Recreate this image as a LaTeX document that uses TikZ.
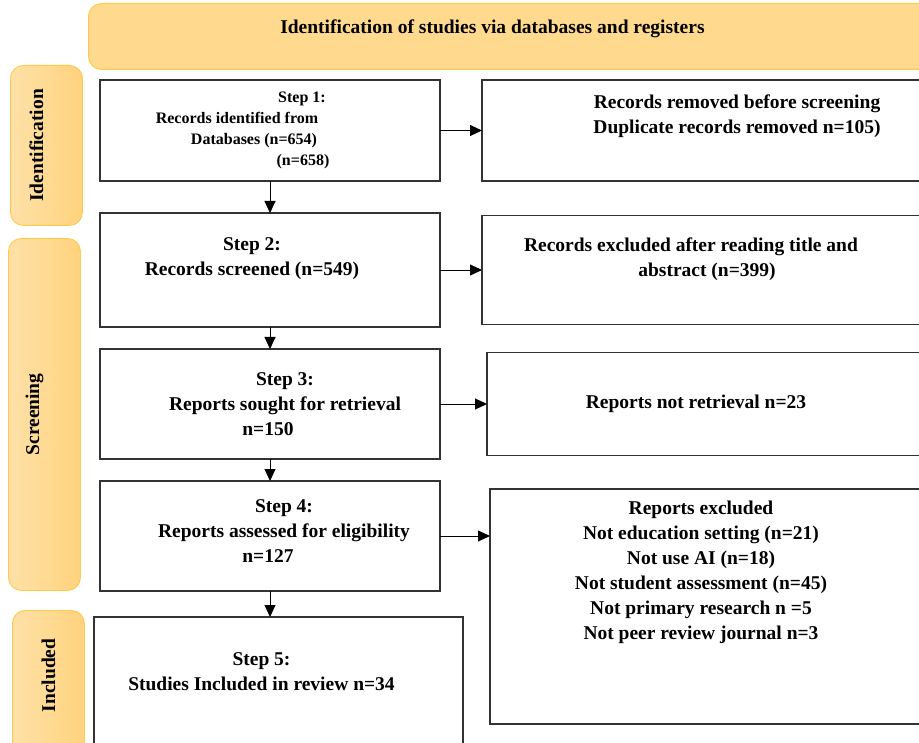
\documentclass[tikz,border=0pt]{standalone}
\usepackage{fontspec}
\setmainfont{Liberation Serif}
\usetikzlibrary{positioning,arrows.meta}

\definecolor{bandfill}{HTML}{FFD98E}
\definecolor{banddraw}{HTML}{FFC94A}
\definecolor{bandlight}{HTML}{FEE1A8}
\definecolor{banddark}{HTML}{FFD37E}
\definecolor{boxdraw}{HTML}{333333}

\begin{document}
\begin{tikzpicture}[
    x=1pt, y=-1pt,
    font=\bfseries\fontsize{19.5}{25}\selectfont,
    box/.style={rectangle, draw=boxdraw, line width=1.2pt, anchor=north west, inner sep=0pt, outer sep=0pt},
    txt/.style={align=center, inner sep=0pt},
    small/.style={txt, font=\bfseries\fontsize{16}{21}\selectfont},
    heading/.style={rectangle, rounded corners=13pt, draw=banddraw, fill=bandfill, line width=0.9pt, anchor=north west},
    band/.style={rectangle, rounded corners=13pt, draw=banddraw, line width=0.9pt, left color=bandlight, right color=banddark, anchor=north west},
    line/.style={draw, line width=0.9pt, -{Triangle[length=12pt, width=11pt]}}
]
    \clip (0,0) rectangle (919,743);

    % Heading and stage bands
    \node [heading, minimum width=880pt, minimum height=66pt] (head) at (88,3) {};
    \node [txt] (head text) at ([xshift=-36pt, yshift=8pt]head.center) {Identification of studies via databases and registers};

    \node [band, minimum width=72pt, minimum height=160pt] (ident) at (10,65) {};
    \node [txt, rotate=90] (ident text) at ([xshift=-10pt]ident.center) {Identification};
    \node [band, minimum width=72pt, minimum height=352pt] (screen) at (8,238) {};
    \node [txt, rotate=90] (screen text) at ([xshift=-10pt]screen.center) {Screening};
    \node [band, minimum width=72pt, minimum height=160pt] (incl) at (12,610) {};
    \node [txt, rotate=90] (incl text) at ([yshift=15pt]incl.center) {Included};

    % Place steps
    \node [box, minimum width=340pt, minimum height=101pt] (step1) at (100,80) {};
    \node [box, minimum width=340pt, minimum height=114pt, below=32pt of step1] (step2) {};
    \node [box, minimum width=340pt, minimum height=110pt, below=22pt of step2] (step3) {};
    \node [box, minimum width=340pt, minimum height=110pt, below=22pt of step3] (step4) {};
    \node [box, minimum width=369pt, minimum height=160pt, below=26pt of step4.south west, anchor=north west, xshift=-6pt] (step5) {};

    % Place exclusion boxes
    \node [box, minimum width=480pt, minimum height=101pt, right=42pt of step1] (removed) {};
    \node [box, minimum width=480pt, minimum height=109pt, right=42pt of step2] (excluded) {};
    \node [box, minimum width=480pt, minimum height=103pt, right=47pt of step3] (not retrieved) {};
    \node [box, minimum width=480pt, minimum height=235pt, right=50pt of step4.north east, anchor=north west, yshift=-8pt] (reports excluded) {};

    % Texts
    \node [small] (step1 text) at (step1.center) {\hspace*{64pt}Step 1:\\
        Records identified from\hspace*{66pt}\null\\
        Databases (n=654)\hspace*{32pt}\null\\
        \hspace*{66pt}(n=658)};
    \node [txt] (step2 text) at ([xshift=-18pt, yshift=11pt]step2.center) {Step 2:\\Records screened (n=549)};
    \node [txt] (step3 text) at ([xshift=15pt]step3.center) {Step 3:\\Reports sought for retrieval\\n=150\hspace*{34pt}\null};
    \node [txt] (step4 text) at ([xshift=14pt, yshift=5pt]step4.center) {Step 4:\\Reports assessed for eligibility\\n=127\hspace*{32pt}\null};
    \node [txt] (step5 text) at ([xshift=-17pt, yshift=25pt]step5.center) {Step 5:\\Studies Included in review n=34};

    \node [txt] (removed text) at ([xshift=15pt, yshift=14pt]removed.center) {Records removed before screening\\Duplicate records removed n=105)};
    \node [txt] (excluded text) at ([xshift=-23pt, yshift=11pt]excluded.center) {Records excluded after reading title and\hspace*{16pt}\null\\\hspace*{16pt}abstract (n=399)};
    \node [txt] (not retrieved text) at ([xshift=-31pt]not retrieved.center) {Reports not retrieval n=23};
    \node [txt] (reports excluded text) at ([xshift=-29pt, yshift=34pt]reports excluded.center) {Reports excluded\\
        Not education setting (n=21)\\
        Not use AI (n=18)\\
        Not student assessment (n=45)\\
        Not primary research n =5\\
        Not peer review journal n=3};

    % Draw edges
    \path [line] (step1) -- (step2);
    \path [line] (step2) -- (step3);
    \path [line] (step3) -- (step4);
    \path [line] (step4) -- (step4 |- step5.north);
    \path [line] (step1) -- (removed);
    \path [line] (step2) -- (step2 -| excluded.west);
    \path [line] (step3) -- (step3 -| not retrieved.west);
    \path [line] (step4) -- (step4 -| reports excluded.west);
\end{tikzpicture}
\end{document}
